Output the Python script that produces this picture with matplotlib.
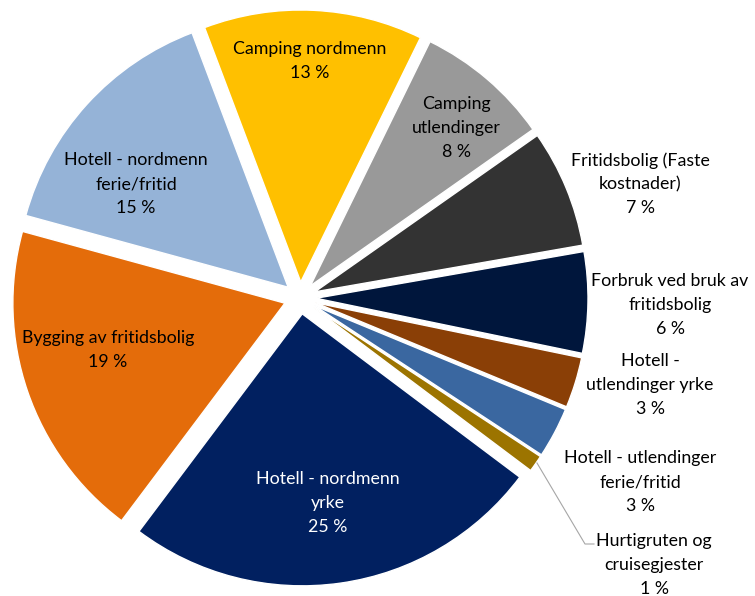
import matplotlib
matplotlib.use("Agg")
import matplotlib.pyplot as plt

# data, clockwise from the top
labels = ["Camping nordmenn", "Camping\nutlendinger", "Fritidsbolig (Faste\nkostnader)",
          "Forbruk ved bruk av\nfritidsbolig", "Hotell -\nutlendinger yrke",
          "Hotell - utlendinger\nferie/fritid", "Hurtigruten og\ncruisegjester",
          "Hotell - nordmenn\nyrke", "Bygging av fritidsbolig", "Hotell - nordmenn\nferie/fritid"]
values = [13, 8, 7, 6, 3, 3, 1, 25, 19, 15]
colors = ["#FFC000", "#999999", "#333333", "#00163C", "#8A3F06",
          "#3A67A0", "#9C7400", "#012060", "#E46C0A", "#95B3D7"]

# label centres in pixel coords (x, y from top)
label_pos = [(310, 61), (456, 128), (640, 184), (670, 305), (650, 385),
             (640, 482), (654, 565), (328, 503), (108, 350), (136, 184)]
text_col = ["black"] * 7 + ["white", "black", "black"]

W, H = 755, 596
fig = plt.figure(figsize=(W / 100, H / 100), dpi=100)
ax = fig.add_axes([0, 0, 1, 1])

# explode is in data units here (1 unit = 1 px)
ax.pie(values, colors=colors, startangle=110.7, counterclock=False,
       center=(300, H - 298), radius=272, explode=[16] * len(values),
       wedgeprops=dict(linewidth=1.0, edgecolor="white"), frame=True)
ax.set_xlim(0, W)
ax.set_ylim(0, H)
ax.set_aspect("equal")
ax.axis("off")

for lab, v, (x, y), c in zip(labels, values, label_pos, text_col):
    ax.text(x, H - y, "%s\n%d %%" % (lab, v), ha="center", va="center",
            multialignment="center", fontsize=12.8, color=c,
            family="Lato", linespacing=1.58)

# leader line for the 1 % slice
ax.plot([537, 585, 594], [H - 463, H - 544, H - 544], color="#A6A6A6", lw=0.8)

fig.savefig("out.png", dpi=100)
